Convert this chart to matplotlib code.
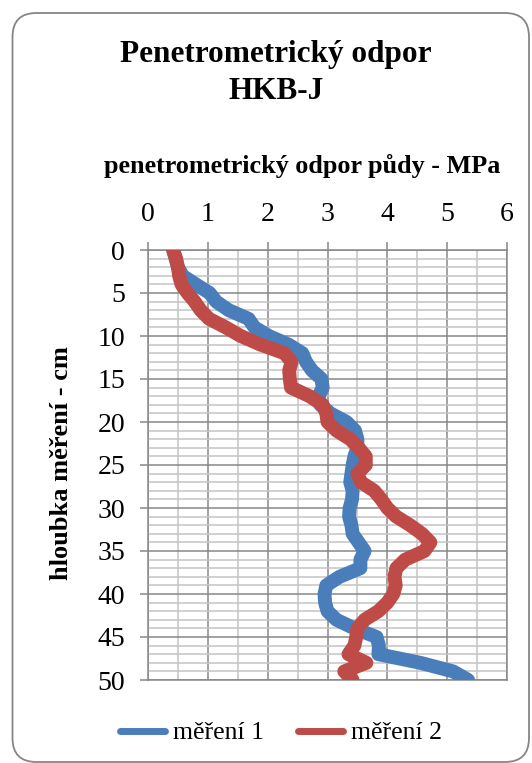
import matplotlib.pyplot as plt
from matplotlib.patches import FancyBboxPatch
from matplotlib.ticker import MultipleLocator

plt.rcParams['font.family'] = ['Liberation Serif', 'DejaVu Serif']

# hloubka mereni (cm)
hloubka = list(range(0, 51))

# mereni 1 - penetrometricky odpor (MPa)
mereni1 = [0.42, 0.46, 0.50, 0.58, 0.80, 1.03, 1.14, 1.35, 1.68, 1.78,
           2.02, 2.35, 2.58, 2.64, 2.74, 2.90, 2.92, 2.85, 2.88, 3.05,
           3.32, 3.46, 3.50, 3.50, 3.45, 3.42, 3.40, 3.38, 3.42, 3.41,
           3.37, 3.36, 3.40, 3.42, 3.52, 3.62, 3.55, 3.55, 3.20, 2.98,
           2.95, 2.96, 3.00, 3.15, 3.45, 3.82, 3.86, 3.85, 4.55, 5.10,
           5.35]

# mereni 2
mereni2 = [0.42, 0.47, 0.50, 0.52, 0.56, 0.66, 0.78, 0.88, 1.02, 1.30,
           1.55, 1.88, 2.28, 2.40, 2.36, 2.37, 2.39, 2.70, 2.92, 2.98,
           3.00, 3.15, 3.38, 3.52, 3.64, 3.64, 3.50, 3.56, 3.78, 3.90,
           4.00, 4.15, 4.38, 4.58, 4.72, 4.62, 4.30, 4.15, 4.12, 4.14,
           4.10, 4.00, 3.85, 3.62, 3.50, 3.48, 3.45, 3.35, 3.65, 3.28,
           3.42]

W, H = 532, 763
fig = plt.figure(figsize=(W / 100, H / 100), dpi=100)

# ramecek grafu
ramecek = FancyBboxPatch((12.5 / W, 1 - 762 / H), (529 - 12.5) / W, (762 - 13) / H,
                         boxstyle='round,pad=0,rounding_size=0.045',
                         transform=fig.transFigure, facecolor='white',
                         edgecolor='#868686', linewidth=1.3,
                         mutation_aspect=W / H, zorder=-1)
fig.patches.append(ramecek)

ax = fig.add_axes([148 / W, 1 - 680 / H, (507 - 148) / W, (680 - 250) / H])

ax.plot(mereni1, hloubka, color='#4A7EBB', lw=10, solid_joinstyle='round',
        solid_capstyle='round', label='měření 1', zorder=3)
ax.plot(mereni2, hloubka, color='#BE4B48', lw=10, solid_joinstyle='round',
        solid_capstyle='round', label='měření 2', zorder=4)

ax.set_xlim(0, 6)
ax.set_ylim(50, 0)
ax.xaxis.set_major_locator(MultipleLocator(1))
ax.xaxis.set_minor_locator(MultipleLocator(0.5))
ax.yaxis.set_major_locator(MultipleLocator(5))
ax.yaxis.set_minor_locator(MultipleLocator(1))
ax.xaxis.tick_top()
ax.xaxis.set_label_position('top')

ax.grid(which='major', color='#878787', lw=1.1, zorder=1)
ax.grid(which='minor', color='#C4C4C4', lw=1.1, zorder=0)
ax.set_axisbelow(True)
for s in ax.spines.values():
    s.set_color('#878787')
    s.set_linewidth(1.1)

ax.tick_params(which='major', length=5.5, width=1.1, color='#878787',
               labelsize=20)
ax.tick_params(axis='x', pad=11)
ax.tick_params(axis='y', pad=11)
ax.tick_params(which='minor', length=0)

ax.set_xlabel('penetrometrický odpor půdy - MPa', fontsize=18.8, fontweight='bold')
ax.xaxis.set_label_coords(302 / W, 1 - 166 / H, transform=fig.transFigure)
ax.xaxis.label.set_verticalalignment('center')
ax.set_ylabel('hloubka měření - cm', fontsize=19, fontweight='bold')
ax.yaxis.set_label_coords(62 / W, 1 - 463 / H, transform=fig.transFigure)
ax.yaxis.label.set_verticalalignment('center')

fig.text(276 / W, 1 - 73 / H, 'Penetrometrický odpor\nHKB-J', ha='center', va='center',
         fontsize=22.5, fontweight='bold', linespacing=1.38)

fig.legend(loc='center', bbox_to_anchor=(281 / W, 1 - 733 / H), ncol=2, frameon=False,
           fontsize=18.5, handlelength=1.75, handletextpad=0.3, columnspacing=1.35)
for ln in fig.legends[0].get_lines():
    ln.set_linewidth(5)

fig.savefig('out.png', dpi=100)
